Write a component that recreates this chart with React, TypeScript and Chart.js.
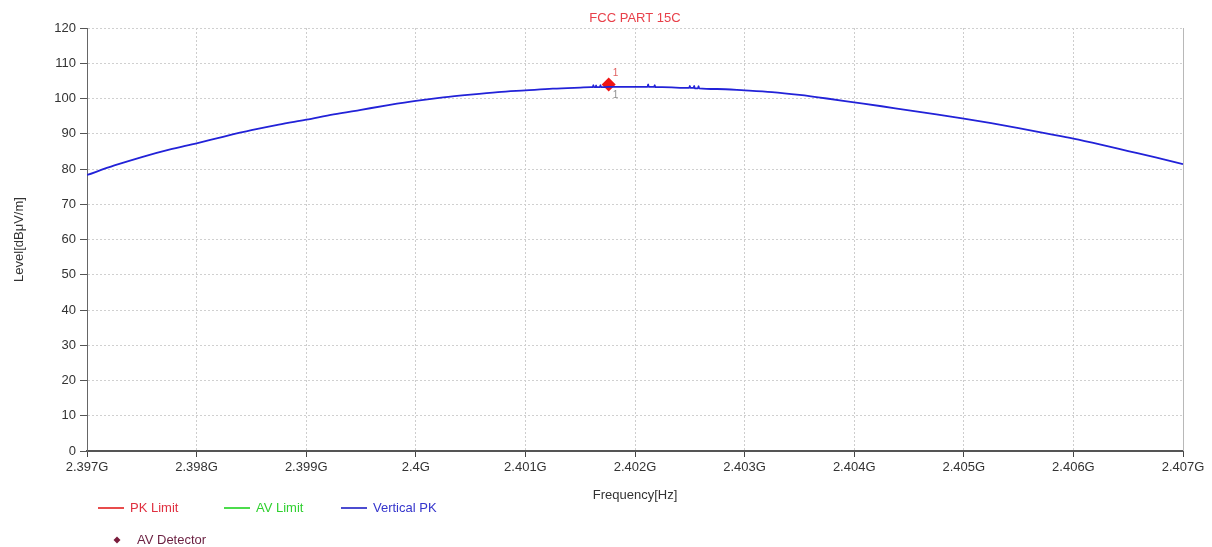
import React, { useEffect, useRef } from "react";
import { Chart, registerables } from "chart.js";

Chart.register(...registerables);

const TITLE = "FCC PART 15C";
const X_TITLE = "Frequency[Hz]";
const Y_TITLE = "Level[dBμV/m]";

// Frequencies in MHz
const freqMHz = [
  2397.0, 2397.25, 2397.5, 2397.75, 2398.0, 2398.25, 2398.5, 2398.75,
  2399.0, 2399.25, 2399.5, 2399.75, 2400.0, 2400.25, 2400.5, 2400.75,
  2401.0, 2401.25, 2401.5, 2401.6,
  2401.615, 2401.62, 2401.625, 2401.64, 2401.645, 2401.65, 2401.68, 2401.685, 2401.69,
  2401.76, 2401.9, 2402.0,
  2402.115, 2402.12, 2402.125, 2402.175, 2402.18, 2402.185, 2402.25,
  2402.495, 2402.5, 2402.505, 2402.535, 2402.54, 2402.545, 2402.575, 2402.58, 2402.585,
  2402.75,
  2403.0, 2403.25, 2403.5, 2403.75, 2404.0, 2404.25, 2404.5, 2404.75,
  2405.0, 2405.25, 2405.5, 2405.75, 2406.0, 2406.25, 2406.5, 2406.75,
  2407.0,
];

// Vertical PK trace level, dBμV/m
const verticalPK = [
  78.3, 81.0, 83.4, 85.5, 87.3, 89.2, 91.0, 92.6,
  94.0, 95.5, 96.8, 98.1, 99.3, 100.3, 101.1, 101.8,
  102.3, 102.8, 103.1, 103.2,
  103.2, 103.8, 103.2, 103.2, 103.7, 103.2, 103.2, 103.8, 103.2,
  103.3, 103.3, 103.3,
  103.3, 104.0, 103.3, 103.3, 103.8, 103.2, 103.2,
  103.0, 103.6, 103.0, 103.0, 103.6, 102.9, 102.9, 103.5, 102.9,
  102.7,
  102.3, 101.8, 101.0, 100.0, 98.9, 97.8, 96.6, 95.5,
  94.3, 93.0, 91.6, 90.1, 88.6, 86.9, 85.1, 83.3,
  81.4,
];

// Limit lines lie outside the visible range
const pkLimit: number[] = [];
const avLimit: number[] = [];

// AV detector marker
const detectorFreqMHz = [2401.76];
const detectorLevel = [104.0];
const detectorLabels = ["1"];

const X_MIN = 2397;
const X_MAX = 2407;
const X_STEP = 1;
const Y_MIN = 0;
const Y_MAX = 120;
const Y_STEP = 10;

const FONT = "'Liberation Sans', Arial, sans-serif";

const legendItems = [
  { label: "PK Limit", line: "#e01010", text: "#e03040", kind: "line" },
  { label: "AV Limit", line: "#10d010", text: "#30d030", kind: "line" },
  { label: "Vertical PK", line: "#1010c0", text: "#3535cc", kind: "line" },
  { label: "AV Detector", line: "#7a1c3c", text: "#6a1f40", kind: "diamond" },
];

export default function App() {
  const ref = useRef<HTMLCanvasElement | null>(null);

  useEffect(() => {
    if (!ref.current) return;

    const decor = {
      id: "decor",
      afterDraw(chart: any) {
        const { ctx, chartArea } = chart;
        ctx.save();
        // right frame line
        ctx.strokeStyle = "#b8b8b8";
        ctx.lineWidth = 1;
        ctx.beginPath();
        ctx.moveTo(chartArea.right + 0.5, chartArea.top);
        ctx.lineTo(chartArea.right + 0.5, chartArea.bottom);
        ctx.stroke();

        // title
        ctx.font = `13px ${FONT}`;
        ctx.fillStyle = "#e8404a";
        ctx.textAlign = "center";
        ctx.textBaseline = "middle";
        ctx.fillText(TITLE, (chartArea.left + chartArea.right) / 2, 18);

        // marker labels
        const meta = chart.getDatasetMeta(3);
        meta.data.forEach((pt: any, i: number) => {
          ctx.font = `10px ${FONT}`;
          ctx.textAlign = "left";
          ctx.fillStyle = "#e06060";
          ctx.fillText(detectorLabels[i], pt.x + 4, pt.y - 11);
          ctx.fillStyle = "#909090";
          ctx.fillText(detectorLabels[i], pt.x + 4, pt.y + 11);
        });

        // legend
        const rows = [
          { y: 508, xs: [98, 224, 341], items: legendItems.slice(0, 3) },
          { y: 540, xs: [113], items: legendItems.slice(3) },
        ];
        ctx.font = `13px ${FONT}`;
        ctx.textBaseline = "middle";
        ctx.textAlign = "left";
        rows.forEach((row) => {
          row.items.forEach((it, k) => {
            const x0 = row.xs[k];
            if (it.kind === "line") {
              ctx.strokeStyle = it.line;
              ctx.lineWidth = 1.5;
              ctx.beginPath();
              ctx.moveTo(x0, row.y);
              ctx.lineTo(x0 + 26, row.y);
              ctx.stroke();
              ctx.fillStyle = it.text;
              ctx.fillText(it.label, x0 + 32, row.y);
            } else {
              ctx.fillStyle = it.line;
              ctx.beginPath();
              ctx.moveTo(x0 + 4, row.y - 3.5);
              ctx.lineTo(x0 + 7.5, row.y);
              ctx.lineTo(x0 + 4, row.y + 3.5);
              ctx.lineTo(x0 + 0.5, row.y);
              ctx.closePath();
              ctx.fill();
              ctx.fillStyle = it.text;
              ctx.fillText(it.label, x0 + 24, row.y);
            }
          });
        });
        ctx.restore();
      },
    };

    const chart = new Chart(ref.current, {
      type: "line",
      data: {
        datasets: [
          {
            label: "PK Limit",
            data: pkLimit.map((v, i) => ({ x: freqMHz[i], y: v })),
            borderColor: "#e01010",
            pointRadius: 0,
          },
          {
            label: "AV Limit",
            data: avLimit.map((v, i) => ({ x: freqMHz[i], y: v })),
            borderColor: "#10d010",
            pointRadius: 0,
          },
          {
            label: "Vertical PK",
            data: freqMHz.map((f, i) => ({ x: f, y: verticalPK[i] })),
            borderColor: "#2222d8",
            borderWidth: 1.8,
            pointRadius: 0,
            cubicInterpolationMode: "monotone",
          },
          {
            label: "AV Detector",
            data: detectorFreqMHz.map((f, i) => ({ x: f, y: detectorLevel[i] })),
            showLine: false,
            pointStyle: "rectRot",
            pointRadius: 7,
            backgroundColor: "#f01515",
            borderColor: "#f01515",
            borderWidth: 0,
          },
        ],
      },
      options: {
        responsive: false,
        animation: false,
        devicePixelRatio: 1,
        events: [],
        layout: { padding: { top: 28, right: 29, left: 0, bottom: 0 } },
        plugins: {
          legend: { display: false },
          title: { display: false },
          tooltip: { enabled: false },
        },
        scales: {
          x: {
            type: "linear",
            min: X_MIN,
            max: X_MAX,
            afterFit: (s: any) => {
              s.height = 96;
            },
            ticks: {
              stepSize: X_STEP,
              autoSkip: false,
              maxRotation: 0,
              padding: 3,
              color: "#333",
              font: { family: FONT, size: 13 },
              callback: (v: any) => `${parseFloat((Number(v) / 1000).toFixed(3))}G`,
            },
            grid: {
              color: "#cdcdcd",
              lineWidth: 1,
              tickLength: 6,
              tickColor: "#444",
              tickWidth: 1,
            },
            border: { display: true, color: "#555", width: 2, dash: [2, 2] },
            title: {
              display: true,
              text: X_TITLE,
              color: "#333",
              font: { family: FONT, size: 13 },
              padding: { top: 0, bottom: 44 },
            },
          },
          y: {
            min: Y_MIN,
            max: Y_MAX,
            afterFit: (s: any) => {
              s.width = 87;
            },
            ticks: {
              stepSize: Y_STEP,
              padding: 4,
              color: "#333",
              font: { family: FONT, size: 13 },
            },
            grid: {
              color: "#d0d0d0",
              lineWidth: 1,
              tickLength: 7,
              tickColor: "#555",
              tickWidth: 1,
            },
            border: { display: true, color: "#666", width: 1, dash: [2, 2] },
            title: {
              display: true,
              text: Y_TITLE,
              color: "#333",
              font: { family: FONT, size: 13 },
              padding: { top: 12, bottom: 0 },
            },
          },
        },
      },
      plugins: [decor],
    } as any);

    return () => chart.destroy();
  }, []);

  return (
    <div style={{ position: "absolute", left: 0, top: 0, width: 1212, height: 547, background: "#fff" }}>
      <canvas ref={ref} width={1212} height={547} style={{ display: "block" }} />
    </div>
  );
}
